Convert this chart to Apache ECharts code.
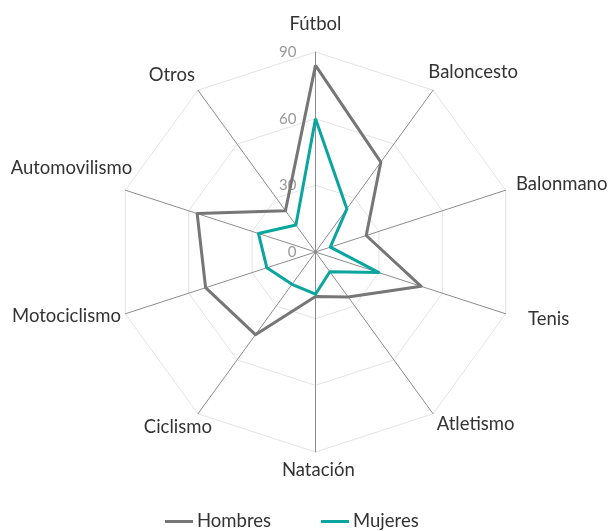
<!DOCTYPE html>
<html>
<head>
<meta charset="utf-8">
<script src="https://cdn.jsdelivr.net/npm/echarts@6/dist/echarts.min.js"></script>
<style>
  html, body { margin: 0; padding: 0; background: #fff; }
  #chart { width: 610px; height: 531px; }
</style>
</head>
<body>
<div id="chart"></div>
<script>
// Sports, listed clockwise starting from the top
const sports = ['Fútbol', 'Baloncesto', 'Balonmano', 'Tenis', 'Atletismo',
  'Natación', 'Ciclismo', 'Motociclismo', 'Automovilismo', 'Otros'];
const hombres = [84, 50, 24, 50, 25, 20, 46, 52, 56, 23];
const mujeres = [60, 24, 7, 30, 11, 19, 18, 23, 27, 15];
const scaleMax = 90;
const scaleSteps = 3;
const seriesNames = ['Hombres', 'Mujeres'];

// Small per-name nudges [dx, dy] (px) applied on top of ECharts' own name placement
const nameNudge = {
  'Fútbol': [0, 0], 'Baloncesto': [-10.6, -10.4], 'Balonmano': [0.8, -3.6],
  'Tenis': [12.8, 1.6], 'Atletismo': [-2.2, 1.4], 'Natación': [2.8, 0],
  'Ciclismo': [19.9, 4.6], 'Motociclismo': [5.2, -0.9],
  'Automovilismo': [16.5, -19.6], 'Otros': [2.9, -7.1]
};
const nameGapFor = { 'Fútbol': 18.5, 'Natación': 9 };
const nameFontSize = 18.5;

// ECharts lays radar indicators out counter-clockwise, so keep the first
// one at the top and reverse the rest to read clockwise.
const order = [0].concat(sports.map((_, i) => i).slice(1).reverse());
const pick = arr => order.map(i => arr[i]);

const font = 'Lato, "Open Sans", sans-serif';

// Name text style: side names are anchored by their top edge so that a
// vertical padding can move them (padding is ignored for 'middle').
function nameStyleFor(name, k) {
  const [dx, dy] = nameNudge[name];
  const ang = (order[k] / order.length) * 2 * Math.PI; // clockwise from top
  const sx = Math.sin(ang);
  if (Math.abs(sx) < 1e-6) {
    return { padding: [0, dx < 0 ? -2 * dx : 0, 0, dx > 0 ? 2 * dx : 0] };
  }
  const t = dy - nameFontSize / 2;
  return {
    verticalAlign: 'top',
    padding: sx > 0 ? [t, 0, 0, dx] : [t, -dx, 0, 0]
  };
}

const indicators = order.map((i, k) => {
  const name = sports[i];
  const ind = {
    name: name, max: scaleMax, min: 0,
    nameGap: nameGapFor[name] !== undefined ? nameGapFor[name] : 10,
    nameTextStyle: nameStyleFor(name, k)
  };
  if (k === 0) {
    ind.axisLabel = { show: true, color: '#9a9a9a', fontSize: 15, fontFamily: font, margin: 19 };
  }
  return ind;
});

const chart = echarts.init(document.getElementById('chart'));
chart.setOption({
  animation: false,
  legend: {
    data: seriesNames,
    left: 165,
    top: 512,
    padding: 0,
    itemWidth: 28,
    itemHeight: 3,
    itemGap: 50,
    icon: 'rect',
    textStyle: { fontSize: 18.5, color: '#333', fontFamily: font, padding: [0, 0, 0, -1] }
  },
  radar: {
    center: [315.5, 252],
    radius: 200,
    startAngle: 90,
    splitNumber: scaleSteps,
    shape: 'polygon',
    indicator: indicators,
    nameGap: 10,
    axisName: { color: '#333', fontSize: nameFontSize, fontFamily: font },
    axisLine: { lineStyle: { color: '#8c8c8c', width: 1 } },
    splitLine: { lineStyle: { color: '#e3e3e3', width: 1 } },
    splitArea: { show: false },
    axisLabel: { show: false },
    axisTick: { show: false }
  },
  series: [{
    type: 'radar',
    symbol: 'none',
    data: [
      { name: seriesNames[0], value: pick(hombres),
        lineStyle: { color: '#767676', width: 3 }, itemStyle: { color: '#767676' } },
      { name: seriesNames[1], value: pick(mujeres),
        lineStyle: { color: '#0aa59e', width: 3 }, itemStyle: { color: '#0aa59e' } }
    ]
  }]
});
</script>
</body>
</html>
